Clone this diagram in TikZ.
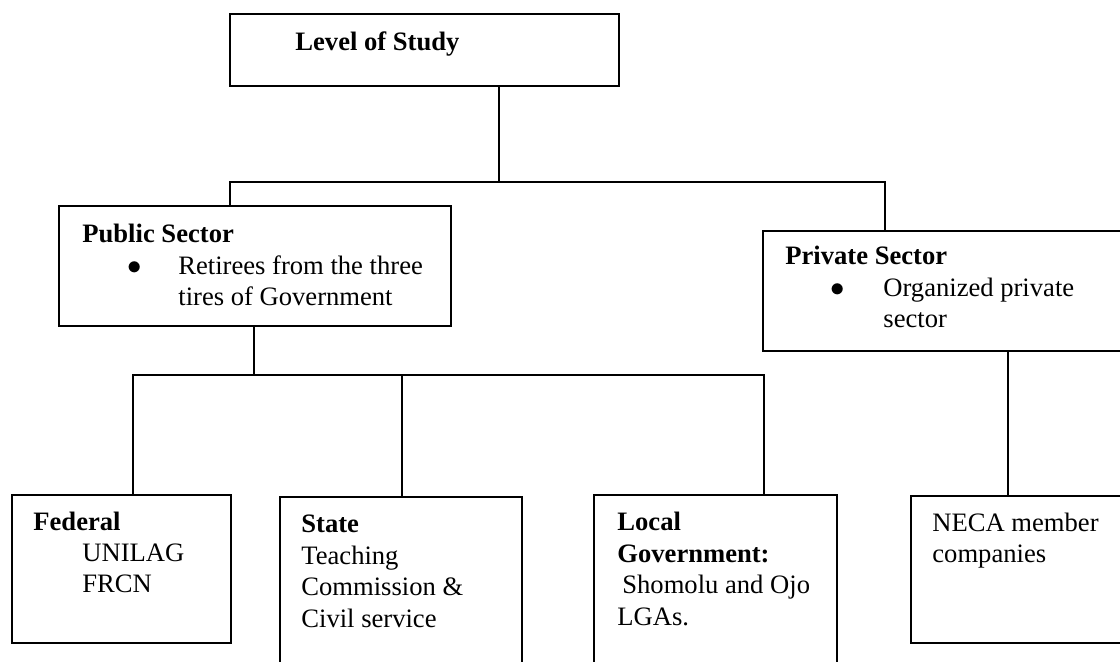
\documentclass[tikz,border=0pt]{standalone}
\usepackage{fontspec}
\setmainfont{Liberation Serif}
\begin{document}
\begin{tikzpicture}[x=0.5pt, y=-0.5pt,
  chartbox/.style={draw, line width=0.9pt, inner sep=0pt, outer sep=0pt},
  txt/.style={anchor=base west, inner sep=0pt, align=left, font=\fontsize{13.3}{15.75}\selectfont},
  link/.style={line width=0.9pt}]
\useasboundingbox (0,0) rectangle (1120,662);
% boxes
\node[chartbox, minimum width=194.5pt, minimum height=36pt] (study) at (424.5,50) {};
\node[chartbox, minimum width=196pt, minimum height=60pt] (public) at (255,266) {};
\node[chartbox, minimum width=183.5pt, minimum height=60pt] (private) at (946.5,291) {};
\node[chartbox, minimum width=109.5pt, minimum height=74pt] (federal) at (121.5,569) {};
\node[chartbox, minimum width=121pt, minimum height=86.5pt] (state) at (401,583.5) {};
\node[chartbox, minimum width=121.5pt, minimum height=87.5pt] (local) at (715.5,582.5) {};
\node[chartbox, minimum width=109.5pt, minimum height=73.5pt] (neca) at (1020.5,569.5) {};
% texts (placed at the baseline of their last line)
\node[txt] (studyT) at (295,51) {\textbf{Level of Study}};
\node[txt] (publicT) at (82,306) {\textbf{Public Sector}\\
  \hspace*{22.5pt}\makebox[25.5pt][l]{$\bullet$}Retirees from the three\\
  \hspace*{48pt}tires of Government};
\node[txt] (privateT) at (785,328) {\textbf{Private Sector}\\
  \hspace*{22.5pt}\makebox[26.5pt][l]{$\bullet$}Organized private\\
  \hspace*{49pt}sector};
\node[txt] (federalT) at (33,593) {\textbf{Federal}\\
  \hspace*{24.5pt}UNILAG\\
  \hspace*{24.5pt}FRCN};
\node[txt] (stateT) at (301,627) {\textbf{State}\\ Teaching\\ Commission \&\\ Civil service};
\node[txt] (localT) at (617,625) {\textbf{Local}\\ \textbf{Government:}\\
  \hspace*{2.5pt}Shomolu and Ojo\\ LGAs.};
\node[txt] (necaT) at (932,563) {NECA member\\ companies};
% connectors
\coordinate (busA) at (499,182);
\coordinate (busAl) at (230,182);
\coordinate (busAr) at (885,182);
\coordinate (busB) at (254,375);
\coordinate (busBl) at (133,375);
\coordinate (busBm) at (402,375);
\coordinate (busBr) at (764,375);
\coordinate (necaX) at (1008,0);
\draw[link] (study.south -| busA) -- (busA);
\draw[link] (public.north -| busAl) -- (busAl) -- (busAr) -- (private.north -| busAr);
\draw[link] (public.south -| busB) -- (busB);
\draw[link] (federal.north -| busBl) -- (busBl) -- (busBr) -- (local.north -| busBr);
\draw[link] (busBm) -- (state.north -| busBm);
\draw[link] (private.south -| necaX) -- (neca.north -| necaX);
\end{tikzpicture}
\end{document}
